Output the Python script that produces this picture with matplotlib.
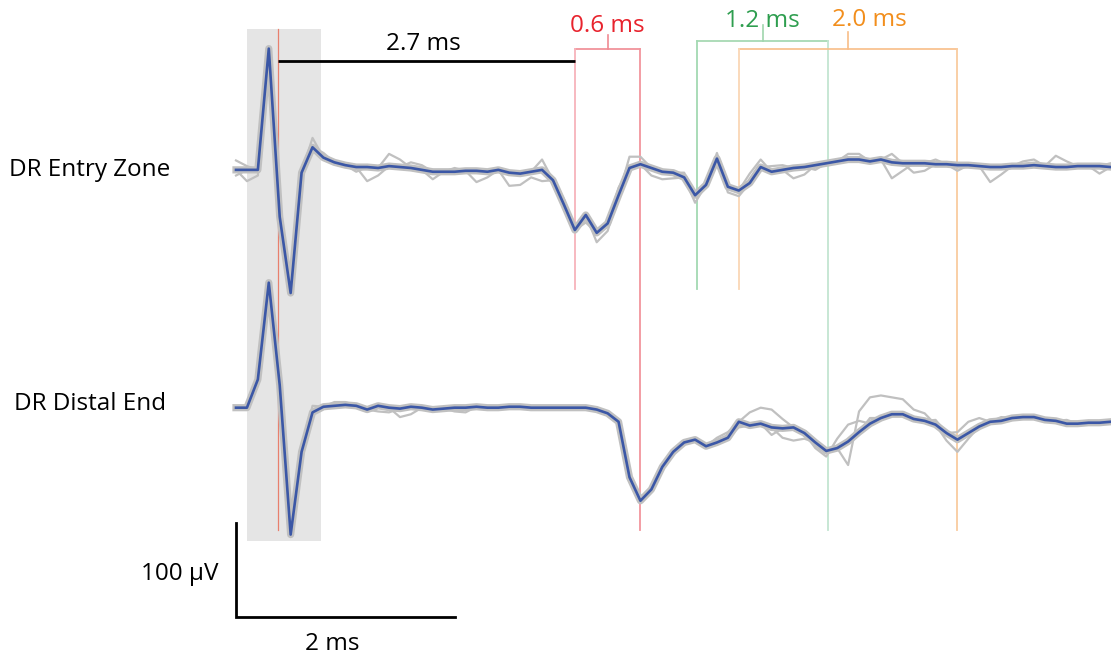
import matplotlib
matplotlib.use('Agg')
import matplotlib.pyplot as plt
import numpy as np

plt.rcParams['font.family'] = ['Open Sans', 'DejaVu Sans']

# ---------------- data ----------------
dt_ms = 0.1  # sampling interval (ms)

# mean traces (µV), DR entry zone and DR distal end
entry_mean = [-2, -2, -2, 127, -52, -133, -5, 22, 11, 6,
              3, 1, 1, 0, 2, 1, 0, -2, -4, -4,
              -4, -3, -3, -4, -2, -5, -6, -4, -2, -13,
              -39, -66, -50, -69, -59, -29, 0, 4, 0, -4,
              -5, -10, -29, -18, 10, -20, -24, -16, 1, -4,
              -2, 0, 1, 3, 5, 7, 9, 9, 7, 9,
              6, 5, 5, 5, 4, 4, 3, 3, 2, 1,
              1, 2, 2, 3, 2, 1, 1, 2, 2, 2, 1]
distal_mean = [0, 0, 30, 133, 24, -135, -47, -5, 1, 2,
               3, 2, -2, 2, 0, -1, 1, 0, -2, -1,
               0, 0, 1, 0, 0, 1, 1, 0, 0, 0,
               0, 0, 0, -2, -6, -15, -74, -99, -87, -63,
               -47, -37, -34, -41, -37, -32, -15, -19, -17, -21,
               -22, -21, -27, -37, -46, -43, -36, -26, -17, -11,
               -7, -7, -12, -14, -18, -27, -34, -27, -20, -15,
               -14, -11, -10, -10, -13, -14, -17, -17, -16, -16, -15]

# individual sweeps: deviation (µV) from the mean at the samples where they separate
entry_sweep_a = {0: 10, 1: 4, 7: 10, 14: 13, 15: 8, 28: 11, 36: 12, 37: 8, 44: 6,
                 47: 10, 48: 8, 56: 6, 57: 6, 60: 9, 75: 12, 76: 6}
entry_sweep_b = {1: -12, 2: -6, 12: -15, 13: -8, 18: -8, 22: -12, 23: -6, 33: -10,
                 34: -8, 42: -8, 45: -6, 46: -6, 51: -11, 52: -8, 60: -17, 61: -8}
entry_sweep_c = {0: -6, 8: 5, 11: -5, 25: -14, 26: -12, 27: -6, 28: -12, 32: -8,
                 38: -8, 39: -8, 40: -6, 53: -5, 62: -10, 63: -8, 69: -16, 70: -8, 79: -8}
entry_sweep_d = {16: 6, 17: 5, 20: 4, 30: 6, 35: 8, 41: 5, 49: 6, 50: 5, 64: 5,
                 66: -6, 72: 5, 73: 6, 80: 4}
distal_sweep_a = {7: 7, 15: -9, 16: -8, 47: 14, 48: 17, 49: 19, 50: 10, 66: 8, 67: 12, 68: 9}
distal_sweep_b = {50: -10, 51: -14, 52: -6, 56: -25, 57: 22, 58: 28, 59: 24, 60: 18,
                  61: 16, 62: 10, 63: 8}
distal_sweep_c = {13: -6, 14: -5, 44: 5, 45: 6, 53: -6, 54: -6, 55: 10, 56: 18, 57: 12,
                  65: -8, 66: -13, 67: -6}
distal_sweep_d = {9: 4, 10: 3, 20: -4, 21: -5, 46: -6, 49: -8, 58: 6, 64: 5, 70: 4, 76: 4}

site_labels = ['DR Entry Zone', 'DR Distal End']
site_offsets_uv = [0, -255]

stim_ms = 0.385
artifact_window_ms = [0.103, 0.782]
conduction_label = '2.7 ms'
conduction_end_ms = 3.10
latency_labels = ['0.6 ms', '1.2 ms', '2.0 ms']
latency_starts_ms = [3.10, 4.22, 4.60]
latency_durations_ms = [0.6, 1.2, 2.0]
scale_ms = 2
scale_uv = 100

# ---------------- style ----------------
blue = '#3b57a6'
gray = '#c0c0c0'
shade = '#e5e5e5'
stim_col = '#e8806e'
text_cols = ['#e8232d', '#2e9e4f', '#f28e1c']
bracket_cols = ['#f08a92', '#9fd6ad', '#f8bd88']
left_cols = ['#f7b3bb', '#a3d9b2', '#fad7b5']
right_cols = ['#f2959d', '#c3e5d1', '#f9cb9f']
fs = 17.5

fig = plt.figure(figsize=(11.11, 6.55), dpi=100)
ax = fig.add_axes([0, 0, 1, 1])
ax.set_xlim(-2.159, 8.005)
ax.set_ylim(-518.1, 178.7)
ax.axis('off')

# stimulus artifact window
ax.fill_between(artifact_window_ms, -396.5, 147.6, color=shade, lw=0, zorder=0)
ax.plot([stim_ms, stim_ms], [147.9, -385], color=stim_col, lw=0.9, zorder=1)

# latency brackets
bracket_y = [126.3, 135.4, 126.3]
tick_top = [141.5, 152.1, 144.4]
label_x_shift = [0, 0, 0.19]
label_y = [145.0, 150.3, 151.1]
for i in range(3):
    t0 = latency_starts_ms[i]
    t1 = t0 + latency_durations_ms[i]
    ax.plot([t0, t1], [bracket_y[i], bracket_y[i]], color=bracket_cols[i], lw=1.2, zorder=1)
    ax.plot([t0, t0], [bracket_y[i], -128.7], color=left_cols[i], lw=1.3, zorder=1)
    ax.plot([t1, t1], [bracket_y[i], -385.1], color=right_cols[i], lw=1.3, zorder=1)
    tm = (t0 + t1) / 2
    ax.plot([tm, tm], [bracket_y[i], tick_top[i]], color=bracket_cols[i], lw=1.2, zorder=1)
    ax.text(tm + label_x_shift[i], label_y[i], latency_labels[i], color=text_cols[i],
            fontsize=fs, ha='center', va='baseline')

# conduction time bar
ax.plot([stim_ms, conduction_end_ms], [113.8, 113.8], color='black', lw=2.0,
        solid_capstyle='butt', zorder=2)
ax.text(1.711, 125.5, conduction_label, fontsize=fs, ha='center', va='baseline')

# traces
t = np.arange(len(entry_mean)) * dt_ms
sites = [(entry_mean, [entry_sweep_a, entry_sweep_b, entry_sweep_c, entry_sweep_d]),
         (distal_mean, [distal_sweep_a, distal_sweep_b, distal_sweep_c, distal_sweep_d])]
label_base = [-8.5, -257.4]
for (mean, sweeps), off, lab, lb in zip(sites, site_offsets_uv, site_labels, label_base):
    m = np.array(mean, dtype=float)
    ax.plot(t, m + off, color=gray, lw=5.2, zorder=3, solid_joinstyle='round')
    for sw in sweeps:
        s = m.copy()
        for k, d in sw.items():
            s[k] += d
        ax.plot(t, s + off, color=gray, lw=1.6, zorder=3)
    ax.plot(t, m + off, color=blue, lw=1.9, zorder=4)
    ax.text(-1.336, lb, lab, fontsize=fs, ha='center', va='baseline')

# scale bar
sb_v0 = -477.3
ax.plot([0, 0, scale_ms], [sb_v0 + scale_uv, sb_v0, sb_v0], color='black', lw=2.0,
        solid_joinstyle='miter')
ax.text(-0.156, -438.3, f'{scale_uv} \u03bcV', fontsize=fs, ha='right', va='baseline')
ax.text(0.885, -512.8, f'{scale_ms} ms', fontsize=fs, ha='center', va='baseline')

fig.savefig('out.png', dpi=100)
